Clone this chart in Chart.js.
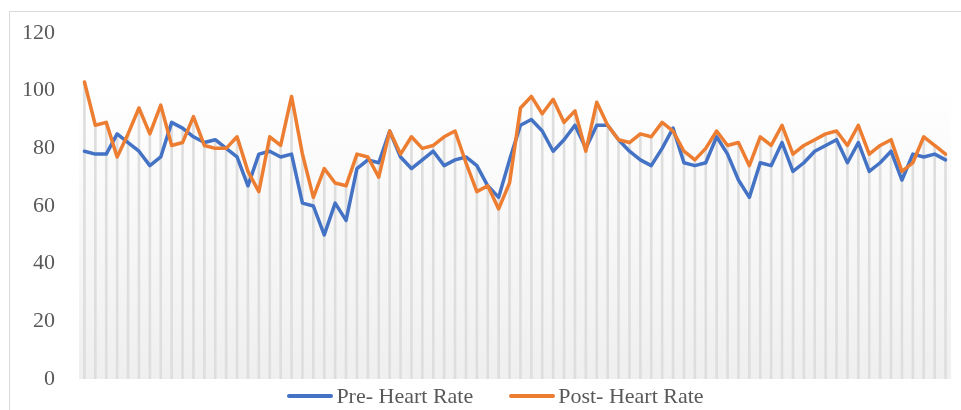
<!DOCTYPE html>
<html>
<head>
<meta charset="utf-8">
<script src="https://cdn.jsdelivr.net/npm/chart.js@4.4.1/dist/chart.umd.min.js"></script>
<style>
  html, body { margin: 0; padding: 0; background: #fff; overflow: hidden; }
  #frame { position: absolute; left: 9px; top: 11px; width: 2000px; height: 2000px; border: 1px solid #d9d9d9; }
  #wrap { position: absolute; left: 0; top: 0; width: 961px; height: 410px; }
  #legend { position: absolute; left: 0; top: 385px; width: 991px; display: flex; justify-content: center;
            font-family: "Liberation Serif", serif; font-size: 22px; line-height: 22px; color: #595959; }
  #legend .item { display: flex; align-items: center; margin: 0 18px; white-space: nowrap; }
  #legend .swatch { width: 46px; height: 4px; border-radius: 2px; margin-right: 3px; }
</style>
</head>
<body>
<div id="frame"></div>
<div id="wrap"><canvas id="hrChart"></canvas></div>
<div id="legend"></div>
<script>
// 80 participants, no x labels shown
const labels = Array.from({length: 80}, (_, i) => String(i + 1));

const preHR = [79, 78, 78, 85, 82, 79, 74, 77, 89, 87,
               84, 82, 83, 80, 77, 67, 78, 79, 77, 78,
               61, 60, 50, 61, 55, 73, 76, 75, 86, 77,
               73, 76, 79, 74, 76, 77, 74, 67, 63, 76,
               88, 90, 86, 79, 83, 88, 80, 88, 88, 83,
               79, 76, 74, 80, 87, 75, 74, 75, 84, 78,
               69, 63, 75, 74, 82, 72, 75, 79, 81, 83,
               75, 82, 72, 75, 79, 69, 78, 77, 78, 76];

const postHR = [103, 88, 89, 77, 85, 94, 85, 95, 81, 82,
                91, 81, 80, 80, 84, 72, 65, 84, 81, 98,
                78, 63, 73, 68, 67, 78, 77, 70, 86, 78,
                84, 80, 81, 84, 86, 75, 65, 67, 59, 68,
                94, 98, 92, 97, 89, 93, 79, 96, 88, 83,
                82, 85, 84, 89, 86, 79, 76, 80, 86, 81,
                82, 74, 84, 81, 88, 78, 81, 83, 85, 86,
                81, 88, 78, 81, 83, 72, 75, 84, 81, 78];

const seriesNames = ['Pre- Heart Rate', 'Post- Heart Rate'];
const yTicks = [0, 20, 40, 60, 80, 100, 120];

// drop lines go from the axis up to the higher of the two series
const dropLines = preHR.map((v, i) => Math.max(v, postHR[i]));

const FONT = '"Liberation Serif", serif';

// plot area gradient (white at top, light grey at bottom)
const plotBg = {
    id: 'plotBg',
    beforeDatasetsDraw(chart) {
        const {ctx, chartArea: a} = chart;
        const g = ctx.createLinearGradient(0, a.top, 0, a.bottom);
        g.addColorStop(0, '#ffffff');
        g.addColorStop(0.15, '#ffffff');
        g.addColorStop(1, '#efefef');
        ctx.save();
        ctx.fillStyle = g;
        ctx.fillRect(a.left, a.top, a.right - a.left, a.bottom - a.top);
        ctx.restore();
    }
};

// html legend, built from the chart's own legend items
const htmlLegend = {
    id: 'htmlLegend',
    afterUpdate(chart) {
        const box = document.getElementById('legend');
        box.innerHTML = '';
        const items = chart.options.plugins.legend.labels.generateLabels(chart)
            .filter(it => chart.data.datasets[it.datasetIndex].type === 'line')
            .reverse(); // Pre first, like the source
        items.forEach(it => {
            const el = document.createElement('div');
            el.className = 'item';
            const sw = document.createElement('span');
            sw.className = 'swatch';
            sw.style.background = it.strokeStyle;
            const tx = document.createElement('span');
            tx.textContent = it.text;
            el.appendChild(sw);
            el.appendChild(tx);
            box.appendChild(el);
        });
    }
};

let ctx = document.getElementById('hrChart').getContext('2d');
let hrChart = new Chart(ctx, {
    data: {
        labels: labels,
        datasets: [{
            type: 'line',
            label: seriesNames[1],
            data: postHR,
            borderColor: '#ED7D31',
            backgroundColor: '#ED7D31',
            borderWidth: 3.5,
            borderJoinStyle: 'round',
            borderCapStyle: 'round',
            pointRadius: 0,
            tension: 0,
            order: 1
        }, {
            type: 'line',
            label: seriesNames[0],
            data: preHR,
            borderColor: '#4472C4',
            backgroundColor: '#4472C4',
            borderWidth: 3.5,
            borderJoinStyle: 'round',
            borderCapStyle: 'round',
            pointRadius: 0,
            tension: 0,
            order: 2
        }, {
            type: 'bar',
            label: 'drop',
            data: dropLines,
            backgroundColor: '#dedede',
            barThickness: 2,
            order: 3
        }]
    },
    options: {
        responsive: true,
        maintainAspectRatio: false,
        animation: false,
        layout: { padding: { top: 33, right: 10, bottom: 31, left: 0 } },
        plugins: {
            legend: { display: false },
            tooltip: { enabled: false }
        },
        scales: {
            x: {
                type: 'category',
                offset: true,
                display: false,
                grid: { display: false }
            },
            y: {
                min: 0,
                max: 120,
                afterFit: s => { s.width = 79; },
                afterBuildTicks: s => { s.ticks = yTicks.map(v => ({value: v})); },
                // tick marks are not drawn, tickLength only pushes the labels left
                grid: { display: false, drawTicks: true, tickLength: 20 },
                border: { display: false },
                ticks: {
                    padding: 4,
                    color: '#595959',
                    font: { family: FONT, size: 22 }
                }
            }
        }
    },
    plugins: [plotBg, htmlLegend]
});
</script>
</body>
</html>
